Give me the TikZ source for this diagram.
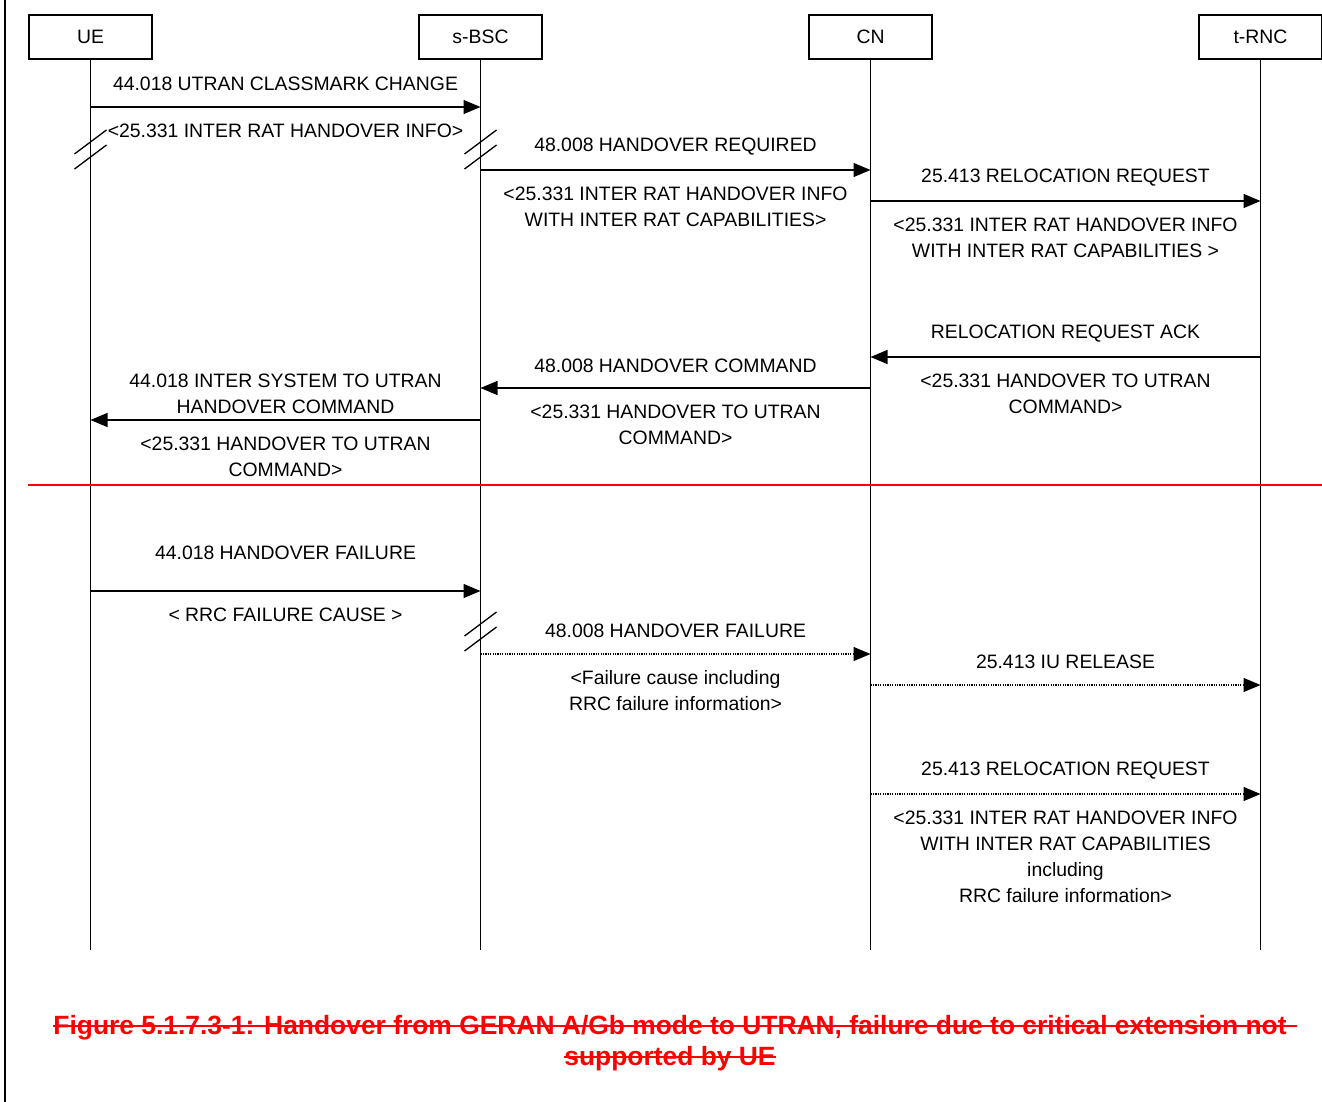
\documentclass[tikz,border=0pt]{standalone}
\usepackage{fontspec}
\setmainfont{Liberation Sans}
\usetikzlibrary{arrows.meta,calc}
\tikzset{
  entity/.style={draw,minimum width=123pt,minimum height=44pt,inner sep=0pt},
  lifeline/.style={draw},
  msg/.style={draw,-{Triangle[length=17pt,width=14pt]}},
  dotmsg/.style={msg,dash pattern=on 1.2pt off 1.2pt},
  lbl/.style={align=center,inner sep=0pt},
  hashmark/.style={draw,line width=1.3pt},
  titleline/.style={inner sep=0pt,anchor=base,text=red,font=\bfseries\fontsize{26.4pt}{31pt}\selectfont},
  strike/.style={draw=red,line width=2.2pt},
}
\begin{document}
\begin{tikzpicture}[x=1pt,y=-1pt,line width=1.4pt,font=\fontsize{19.4pt}{26pt}\selectfont]
\useasboundingbox (0,0) rectangle (1322,1102);

\node[entity] (ue) at (90.5,37) {UE};
\node[entity] (bsc) at (480.5,37) {s-BSC};
\node[entity] (cn) at (870.5,37) {CN};
\node[entity] (rnc) at (1260.5,37) {t-RNC};

\coordinate (bot) at (0,950);
\draw[lifeline] (ue.south) -- (ue |- bot);
\draw[lifeline] (bsc.south) -- (bsc |- bot);
\draw[lifeline] (cn.south) -- (cn |- bot);
\draw[lifeline] (rnc.south) -- (rnc |- bot);

% rows of the messages
\coordinate (r1) at (0,107);
\coordinate (r2) at (0,170);
\coordinate (r3) at (0,201);
\coordinate (r4) at (0,357);
\coordinate (r5) at (0,388);
\coordinate (r6) at (0,420);
\coordinate (r7) at (0,591);
\coordinate (r8) at (0,654);
\coordinate (r9) at (0,685);
\coordinate (r10) at (0,794);

\path
(ue |- r1) edge[msg] node (l1a) [lbl,yshift=23pt] {44.018 UTRAN CLASSMARK CHANGE}
  node (l1b) [lbl,yshift=-24pt] {<25.331 INTER RAT HANDOVER INFO>} (bsc |- r1)
(bsc |- r2) edge[msg] node (l2a) [lbl,yshift=23pt] {48.008 HANDOVER REQUIRED}
  node (l2b) [lbl,yshift=-37pt] {<25.331 INTER RAT HANDOVER INFO\\WITH INTER RAT CAPABILITIES>} (cn |- r2)
(cn |- r3) edge[msg] node (l3a) [lbl,yshift=23pt] {25.413 RELOCATION REQUEST}
  node (l3b) [lbl,yshift=-37pt] {<25.331 INTER RAT HANDOVER INFO\\WITH INTER RAT CAPABILITIES >} (rnc |- r3)
(rnc |- r4) edge[msg] node (l4a) [lbl,yshift=23pt] {RELOCATION REQUEST ACK}
  node (l4b) [lbl,yshift=-37pt] {<25.331 HANDOVER TO UTRAN\\COMMAND>} (cn |- r4)
(cn |- r5) edge[msg] node (l5a) [lbl,yshift=22pt] {48.008 HANDOVER COMMAND}
  node (l5b) [lbl,yshift=-37pt] {<25.331 HANDOVER TO UTRAN\\COMMAND>} (bsc |- r5)
(bsc |- r6) edge[msg] node (l6a) [lbl,yshift=26pt] {44.018 INTER SYSTEM TO UTRAN\\HANDOVER COMMAND}
  node (l6b) [lbl,yshift=-37pt] {<25.331 HANDOVER TO UTRAN\\COMMAND>} (ue |- r6);

% failure part
\draw[red,line width=1.5pt] (28,485) -- (1322,485);

\path
(ue |- r7) edge[msg] node (l7a) [lbl,yshift=38pt] {44.018 HANDOVER FAILURE}
  node (l7b) [lbl,yshift=-24pt] {< RRC FAILURE CAUSE >} (bsc |- r7)
(bsc |- r8) edge[dotmsg] node (l8a) [lbl,yshift=23pt] {48.008 HANDOVER FAILURE}
  node (l8b) [lbl,yshift=-37pt] {<Failure cause including\\RRC failure information>} (cn |- r8)
(cn |- r9) edge[dotmsg] node (l9a) [lbl,yshift=23pt] {25.413 IU RELEASE} (rnc |- r9)
(cn |- r10) edge[dotmsg] node (l10a) [lbl,yshift=23pt] {25.413 RELOCATION REQUEST}
  node (l10b) [lbl,yshift=-63pt] {<25.331 INTER RAT HANDOVER INFO\\WITH INTER RAT CAPABILITIES\\including\\RRC failure information>} (rnc |- r10);

% hash marks
\draw[hashmark] ($(ue |- 0,142)+(-16,12)$) -- ++(32,-24);
\draw[hashmark] ($(ue |- 0,157)+(-16,12)$) -- ++(32,-24);
\draw[hashmark] ($(bsc |- 0,142)+(-16,12)$) -- ++(32,-24);
\draw[hashmark] ($(bsc |- 0,157)+(-16,12)$) -- ++(32,-24);
\draw[hashmark] ($(bsc |- 0,624)+(-16,12)$) -- ++(32,-24);
\draw[hashmark] ($(bsc |- 0,639)+(-16,12)$) -- ++(32,-24);

\draw[line width=2pt] (5,0) -- (5,1102);

% struck-out caption
\node[titleline] (title1) at (670,1034) {Figure 5.1.7.3-1: Handover from GERAN A/Gb mode to UTRAN, failure due to critical extension not};
\node[titleline] (title2) at (670,1065) {supported by UE};
\draw[strike] ([yshift=8pt]title1.base west) -- ([yshift=8pt,xshift=10pt]title1.base east);
\draw[strike] ([yshift=8pt]title2.base west) -- ([yshift=8pt]title2.base east);

\end{tikzpicture}
\end{document}
